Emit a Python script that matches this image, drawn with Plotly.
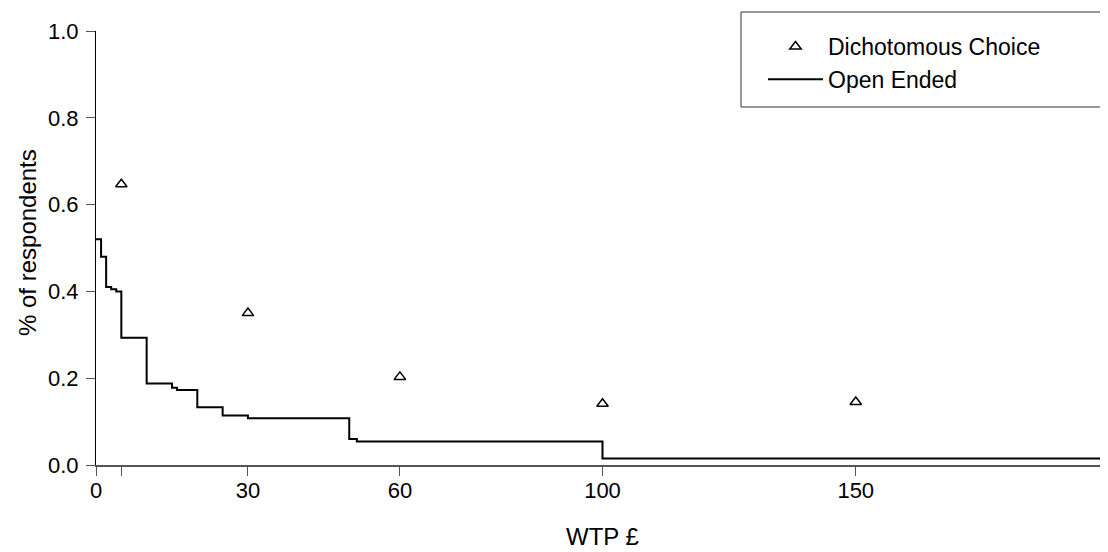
import plotly.graph_objects as go

# Dichotomous choice: share of "yes" at each bid (WTP, £)
dc_wtp = [5, 30, 60, 100, 150]
dc_share = [0.647, 0.350, 0.203, 0.141, 0.145]

# Open ended: survival (step) function of stated WTP
oe_wtp = [0, 1, 2, 3, 4, 5, 10, 15, 16, 20, 25, 30, 50, 51.5, 100, 199.5]
oe_share = [0.520, 0.480, 0.410, 0.405, 0.400, 0.293, 0.188, 0.178, 0.173,
            0.133, 0.114, 0.108, 0.060, 0.054, 0.015, 0.0]

x_tickvals = [0, 5, 30, 60, 100, 150]
x_ticktext = ["0", "", "30", "60", "100", "150"]
y_tickvals = [0.0, 0.2, 0.4, 0.6, 0.8, 1.0]
y_ticktext = ["0.0", "0.2", "0.4", "0.6", "0.8", "1.0"]

FONT = "Liberation Sans, Arial, sans-serif"
OFF = 8  # page body margin
W, H = 1100, 544
# target plot area in page pixels: left 96, top 31, right 1108, bottom 465
ML, MT = 96 - OFF, 31 - OFF
MR = 0
MB = H - (465 - OFF)
PW, PH = W - ML - MR, H - MT - MB


def px_x(p):
    return (p - OFF - ML) / PW


def px_y(p):
    return (H - MB - (p - OFF)) / PH


fig = go.Figure()
fig.add_trace(go.Scatter(
    x=dc_wtp, y=dc_share, mode="markers", name="Dichotomous Choice",
    marker=dict(symbol="triangle-up-open", size=10, color="black",
                line=dict(color="black", width=1.5)),
))
fig.add_trace(go.Scatter(
    x=oe_wtp, y=oe_share, mode="lines", name="Open Ended",
    line=dict(shape="hv", color="black", width=2),
))

fig.update_layout(
    width=W, height=H,
    margin=dict(l=ML, r=MR, t=MT, b=MB, pad=0),
    paper_bgcolor="white", plot_bgcolor="white",
    font=dict(family=FONT, color="black", size=22),
    showlegend=True,
    legend=dict(
        x=px_x(763), y=px_y(25), xanchor="left", yanchor="top",
        bgcolor="rgba(0,0,0,0)", borderwidth=0,
        font=dict(size=23, family=FONT, color="black"),
        itemwidth=55, tracegroupgap=0,
    ),
    xaxis=dict(
        range=[0, 199.8], showgrid=False, zeroline=False,
        showline=True, linecolor="#555", linewidth=1.5,
        ticks="outside", ticklen=9, tickcolor="#555", tickwidth=1,
        tickvals=x_tickvals, ticktext=x_ticktext,
        tickfont=dict(size=22, family=FONT, color="black"),
        ticklabelstandoff=-4,
    ),
    yaxis=dict(
        range=[0, 1], showgrid=False, zeroline=False,
        showline=True, linecolor="black", linewidth=1,
        ticks="outside", ticklen=9, tickcolor="#555", tickwidth=1,
        tickvals=y_tickvals, ticktext=y_ticktext,
        tickfont=dict(size=22, family=FONT, color="black"),
        ticklabelstandoff=3,
    ),
    shapes=[dict(
        type="rect", xref="paper", yref="paper",
        x0=px_x(741), x1=px_x(1103), y0=px_y(107), y1=px_y(12),
        line=dict(color="#333", width=1), fillcolor="rgba(0,0,0,0)",
    )],
    annotations=[
        dict(text="WTP £", xref="paper", yref="paper", x=0.5, y=px_y(536),
             xanchor="center", yanchor="middle", showarrow=False,
             font=dict(size=24, family=FONT, color="black")),
        dict(text="% of respondents", xref="paper", yref="paper",
             x=px_x(27), y=px_y(243), xanchor="center", yanchor="middle",
             textangle=-90, showarrow=False,
             font=dict(size=24, family=FONT, color="black")),
    ],
)

fig.write_html("out.html")
